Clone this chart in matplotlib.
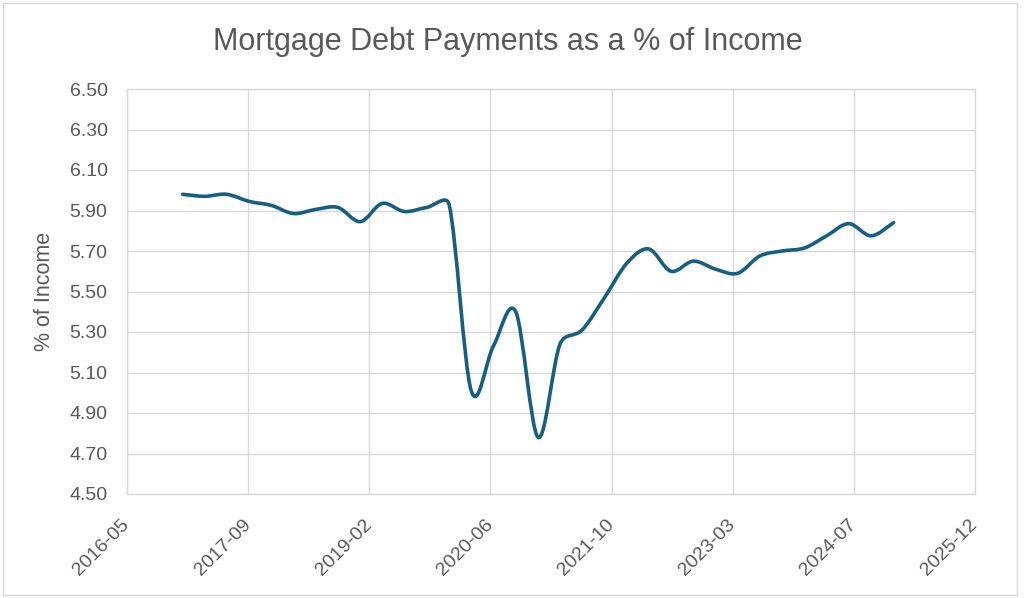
import matplotlib
matplotlib.use("Agg")
import matplotlib.pyplot as plt
import matplotlib.dates as mdates
from matplotlib.path import Path
from matplotlib.patches import PathPatch, Rectangle
import pandas as pd
import numpy as np
import datetime as dt

# ---------------- data ----------------
title = "Mortgage Debt Payments as a % of Income"
y_label = "% of Income"
dates = pd.date_range("2017-01-01", periods=33, freq="QS")
values = [5.98, 5.97, 5.98, 5.945, 5.925, 5.885, 5.905, 5.915, 5.845, 5.935,
          5.895, 5.915, 5.93, 5.01, 5.23, 5.40, 4.78, 5.24, 5.31, 5.47,
          5.64, 5.71, 5.60, 5.65, 5.61, 5.59, 5.675, 5.70, 5.715, 5.775,
          5.835, 5.775, 5.84]
y_ticks = [4.50, 4.70, 4.90, 5.10, 5.30, 5.50, 5.70, 5.90, 6.10, 6.30, 6.50]
x_axis_start = dt.date(2016, 5, 17)
x_tick_step_days = 498
n_x_ticks = 8

# ---------------- style ----------------
text_color = "#595959"
grid_color = "#D9D9D9"
line_color = "#156082"
font = ["Liberation Sans", "DejaVu Sans"]
plt.rcParams["font.family"] = font

W, H = 1024, 598
fig = plt.figure(figsize=(W / 100, H / 100), dpi=100)
fig.patch.set_facecolor("white")
L, R, T, B = 127, 975, 89, 494
ax = fig.add_axes([L / W, 1 - B / H, (R - L) / W, (B - T) / H])

x0 = mdates.date2num(x_axis_start)
xt = [x0 + k * x_tick_step_days for k in range(n_x_ticks)]
ax.set_xlim(xt[0], xt[-1])
ax.set_ylim(y_ticks[0], y_ticks[-1])
ax.set_xticks(xt)
ax.set_yticks(y_ticks)
ax.xaxis.set_major_formatter(mdates.DateFormatter("%Y-%m"))
ax.yaxis.set_major_formatter(matplotlib.ticker.FormatStrFormatter("%.2f"))

# smoothed line (Excel-style Bezier smoothing computed in screen space:
# control offsets (P2-P0)/6, clamped to half the segment length),
# then mapped back to data coordinates
x = mdates.date2num(dates.to_pydatetime())
y = np.asarray(values, dtype=float)
disp = ax.transData.transform(np.column_stack([x, y]))
inv = ax.transData.inverted()
n = len(disp)
f = 1.0 / 6.0


def dist(a, b):
    return float(np.hypot(*(b - a)))


verts = [disp[0]]
codes = [Path.MOVETO]
for i in range(n - 1):
    p0 = disp[i - 1] if i > 0 else disp[i]
    p1 = disp[i]
    p2 = disp[i + 1]
    p3 = disp[i + 2] if i + 2 < n else disp[i + 1]
    d12 = dist(p1, p2)
    d02 = dist(p0, p2)
    d13 = dist(p1, p3)
    f1 = f if d02 * f <= d12 / 2 else d12 / (2 * d02)
    f2 = f if d13 * f <= d12 / 2 else d12 / (2 * d13)
    c1 = p1 + (p2 - p0) * f1
    c2 = p2 - (p3 - p1) * f2
    verts += [c1, c2, p2]
    codes += [Path.CURVE4, Path.CURVE4, Path.CURVE4]
verts = inv.transform(np.array(verts))
patch = PathPatch(Path(verts, codes), facecolor="none", edgecolor=line_color,
                  lw=2.6, capstyle="round", joinstyle="round", zorder=3)
ax.add_patch(patch)

ax.grid(True, color=grid_color, lw=1.0)
ax.set_axisbelow(True)
for s in ax.spines.values():
    s.set_color(grid_color)
    s.set_linewidth(1.0)

ax.tick_params(axis="both", length=0, labelsize=14, colors=text_color)
ax.tick_params(axis="y", pad=14)
ax.tick_params(axis="x", pad=20)
for lbl in ax.get_xticklabels():
    lbl.set_rotation(45)
    lbl.set_ha("right")
    lbl.set_va("center")
    lbl.set_rotation_mode("anchor")

ax.set_ylabel(y_label, fontsize=15.5, color=text_color)
ax.yaxis.label.set_va("center")
ax.yaxis.set_label_coords((45 - L) / (R - L), 0.5)

fig.text(508 / W, 1 - 50 / H, title, ha="center", va="baseline",
         fontsize=22, color=text_color)

fig.patches.append(Rectangle((3 / W, 3 / H), 1014 / W, 592 / H,
                             transform=fig.transFigure, fill=False,
                             edgecolor=grid_color, lw=1.0))

fig.savefig("out.png", dpi=100)
